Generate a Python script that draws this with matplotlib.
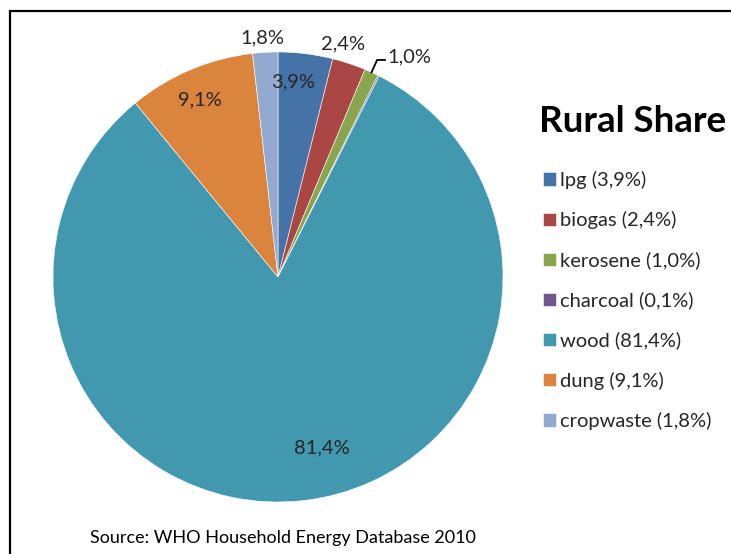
import numpy as np
import matplotlib
matplotlib.use("Agg")
import matplotlib.pyplot as plt
from matplotlib.lines import Line2D

categories = ["lpg", "biogas", "kerosene", "charcoal", "wood", "dung", "cropwaste"]
values = [3.9, 2.4, 1.0, 0.1, 81.4, 9.1, 1.8]
value_labels = ["3,9%", "2,4%", "1,0%", "0,1%", "81,4%", "9,1%", "1,8%"]
colors = ["#4572A7", "#AA4643", "#89A54E", "#71588F", "#4198AF", "#DB843D", "#93A9CF"]
title = "Rural Share"
source = "Source: WHO Household Energy Database 2010"

plt.rcParams['font.family'] = ['Lato', 'DejaVu Sans']
W, H = 731, 554
fig = plt.figure(figsize=(W / 100, H / 100), dpi=100)

# border frame (left and top edges only visible)
bx, by = 10 / W, 1 - 11 / H
fig.add_artist(Line2D([bx, bx, 1.0], [0.0, by, by], transform=fig.transFigure,
                      color="black", linewidth=1.6, solid_joinstyle="miter"))

cx, cy, R = 278, 277, 225
ax = fig.add_axes([(cx - R) / W, (H - cy - R) / H, 2 * R / W, 2 * R / H])
wedges, _ = ax.pie(values, colors=colors, startangle=90, counterclock=False,
                   wedgeprops=dict(linewidth=0.4, edgecolor="white"))
ax.set_xlim(-1, 1)
ax.set_ylim(-1, 1)
ax.set_aspect("auto")
ax.axis("off")

FS = 14.5
# label placement: (radius, angle nudge in degrees) per slice; None = no label
placement = [(0.87, 2.5), (1.075, 2.8), None, None, (0.785, 8.0), (0.86, 0.9), (1.067, 0.4)]
total = sum(values)
cum = np.cumsum([0] + values)
for i, (w, lab) in enumerate(zip(wedges, value_labels)):
    mid = 90 - (cum[i] + values[i] / 2) / total * 360
    if placement[i] is None:
        continue
    r, nud = placement[i]
    a = np.deg2rad(mid + nud)
    ax.text(r * np.cos(a), r * np.sin(a), lab, ha="center", va="center",
            fontsize=FS, color="#262626")

# kerosene label with leader line
i = 2
mid = np.deg2rad(90 - (cum[i] + values[i] / 2) / total * 360)
p0 = (np.cos(mid) * 1.0, np.sin(mid) * 1.0)
p1 = (p0[0] + 0.025, p0[1] + 0.055)
p2 = (p1[0] + 0.035, p1[1])
ax.plot([p0[0], p1[0], p2[0]], [p0[1], p1[1], p2[1]], color="black", lw=1.3, clip_on=False)
ax.text(p2[0] + 0.01, p2[1] + 0.012, value_labels[i], ha="left", va="center",
        fontsize=FS, color="#262626")

# legend title
fig.text(539 / W, 1 - 121 / H, title, ha="left", va="center", fontsize=26.5,
         fontweight="bold", color="black")

leg_labels = [f"{c} ({v})" for c, v in zip(categories, value_labels)]
leg = fig.legend(wedges, leg_labels, loc="upper left", bbox_to_anchor=(527 / W, 1 - 155 / H),
                 frameon=False, fontsize=FS, handlelength=0.65, handleheight=0.65,
                 handletextpad=0.2, labelspacing=1.1, borderpad=0.3)
for t in leg.get_texts():
    t.set_color("#262626")

fig.text(90 / W, 1 - 538 / H, source, ha="left", va="center", fontsize=13, color="black")

fig.savefig("out.png", dpi=100)
